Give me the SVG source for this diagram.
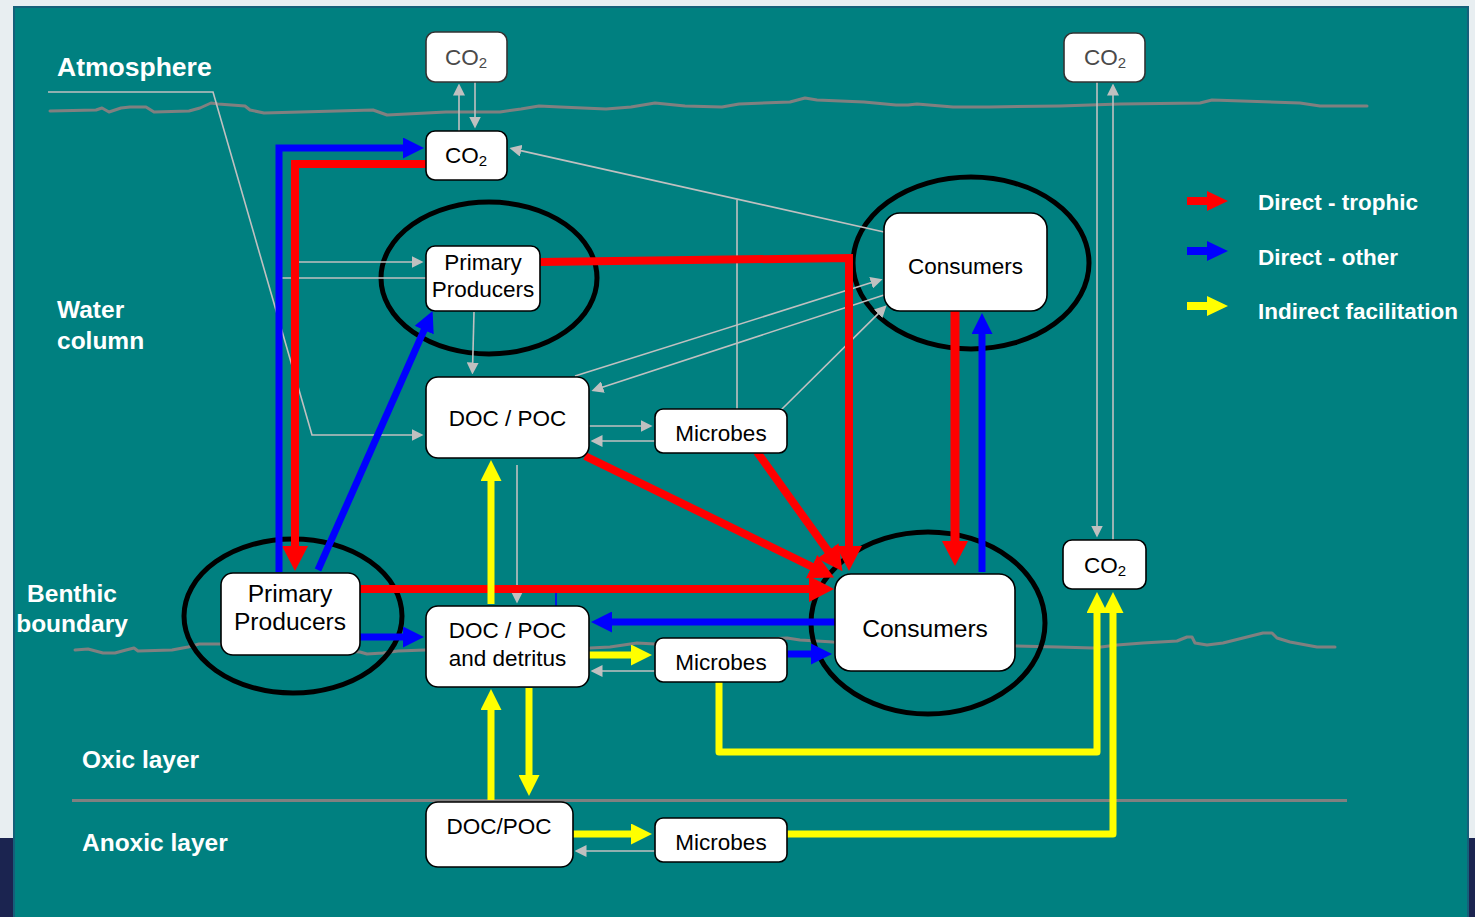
<svg xmlns="http://www.w3.org/2000/svg" width="1475" height="917" viewBox="0 0 1475 917">
<style>
.bg{fill:#e8eef1}
.panel{fill:#008080;stroke:#15607a;stroke-width:2}
.wave{fill:none;stroke:#808080;stroke-width:3;stroke-linejoin:round;stroke-linecap:round}
.g{fill:none;stroke:#c0c0c0;stroke-width:1.6}
.r{fill:none;stroke:#ff0000;stroke-width:8}
.b{fill:none;stroke:#0000ff;stroke-width:7}
.y{fill:none;stroke:#ffff00;stroke-width:7;stroke-linejoin:round}
.ell{fill:none;stroke:#000;stroke-width:5}
.box{fill:#fff;stroke:#000;stroke-width:1.6}
.boxg{fill:#fff;stroke:#333;stroke-width:1.6}
.nt{font-family:"Liberation Sans",Arial,sans-serif;font-size:22.5px;fill:#000;text-anchor:middle}
.ntl{font-family:"Liberation Sans",Arial,sans-serif;font-size:24.6px;fill:#000;text-anchor:middle}
.ntg{font-family:"Liberation Sans",Arial,sans-serif;font-size:22.5px;fill:#4a4a4a;text-anchor:middle}
.lb{font-family:"Liberation Sans",Arial,sans-serif;font-weight:bold;font-size:24.5px;fill:#fff}
.lg{font-family:"Liberation Sans",Arial,sans-serif;font-weight:bold;font-size:22.5px;fill:#fff}
</style>
<defs>
<marker id="hr" markerUnits="userSpaceOnUse" markerWidth="25" markerHeight="26" refX="1" refY="13" orient="auto" viewBox="0 0 25 26"><path d="M0,0 L25,13 L0,26 z" fill="#ff0000"/></marker>
<marker id="hb" markerUnits="userSpaceOnUse" markerWidth="21" markerHeight="21" refX="1" refY="10.5" orient="auto" viewBox="0 0 21 21"><path d="M0,0 L21,10.5 L0,21 z" fill="#0000ff"/></marker>
<marker id="hy" markerUnits="userSpaceOnUse" markerWidth="21" markerHeight="21" refX="1" refY="10.5" orient="auto" viewBox="0 0 21 21"><path d="M0,0 L21,10.5 L0,21 z" fill="#ffff00"/></marker>
<marker id="hg" markerUnits="userSpaceOnUse" markerWidth="12" markerHeight="12" refX="0.5" refY="6" orient="auto" viewBox="0 0 12 12"><path d="M0,0 L12,6 L0,12 z" fill="#c0c0c0"/></marker>
</defs>

<rect class="bg" x="0" y="0" width="1475" height="917"/>
<rect x="0" y="838" width="1475" height="79" fill="#1b2450"/>
<rect class="panel" x="14" y="7" width="1454" height="912"/>

<g id="layers">
<path class="wave" d="M50,111 L96,110 L102,108 L109,112 L121,108 L130,107 L146,107 L154,112 L189,111 L200,108 L211,103 L218,104 L245,106 L250,110 L264,113 L373,110 L387,115 L446,112 L500,112 L521,109 L539,106 L560,107 L606,109 L631,107 L655,103 L685,106 L722,107 L739,104 L790,102 L805,98 L817,100 L864,102 L896,105 L908,105 L917,104 L953,107 L989,107 L1060,106 L1120,104 L1200,103 L1212,100 L1300,103 L1320,106 L1367,106"/>
<path class="wave" d="M75,650 L88,649 L103,653 L115,653 L126,650 L134,648 L138,651 L172,650 L188,647 L199,644 L220,644 L360,652 L367,654 L383,653 L398,651 L425,650 L590,648 L610,647 L637,643 L655,644 L787,638 L800,640 L817,641 L833,642 L1016,646 L1058,647 L1093,648 L1117,645 L1143,643 L1177,641 L1187,637 L1192,637 L1195,643 L1207,645 L1223,643 L1243,638 L1263,633 L1272,633 L1277,638 L1290,642 L1317,647 L1335,647"/>
<line x1="72" y1="800.5" x2="1347" y2="800.5" stroke="#808080" stroke-width="3"/>
<text class="lb" x="57" y="76" style="font-size:26.5px">Atmosphere</text>
<text class="lb" x="57" y="318">Water</text>
<text class="lb" x="57" y="349">column</text>
<text class="lb" x="72" y="602" text-anchor="middle">Benthic</text>
<text class="lb" x="72" y="632" text-anchor="middle">boundary</text>
<text class="lb" x="82" y="768">Oxic layer</text>
<text class="lb" x="82" y="851">Anoxic layer</text>
</g>

<g id="ellipses">
<ellipse class="ell" cx="489" cy="278" rx="108" ry="76"/>
<ellipse class="ell" cx="971" cy="263" rx="118" ry="86"/>
<ellipse class="ell" cx="293" cy="616" rx="109" ry="77"/>
<ellipse class="ell" cx="928" cy="623" rx="117" ry="91"/>
</g>

<g id="connectors">
<g id="gray">
<path class="g" d="M48,92 H213 L312,435 H412" marker-end="url(#hg)"/>
<path class="g" d="M298,262 H412" marker-end="url(#hg)"/>
<path class="g" d="M282,278 H426"/>
<path class="g" d="M474,312 L472.7,363" marker-end="url(#hg)"/>
<path class="g" d="M459,131 V95" marker-end="url(#hg)"/>
<path class="g" d="M475,82 V117" marker-end="url(#hg)"/>
<path class="g" d="M884,232 L520.7,150.6" marker-end="url(#hg)"/>
<path class="g" d="M737,410 V200"/>
<path class="g" d="M575,376 L871.6,282.6" marker-end="url(#hg)"/>
<path class="g" d="M884,295 L602.4,387.3" marker-end="url(#hg)"/>
<path class="g" d="M781,410 L878.5,313.4" marker-end="url(#hg)"/>
<path class="g" d="M589,426 H641" marker-end="url(#hg)"/>
<path class="g" d="M655,441 H602" marker-end="url(#hg)"/>
<path class="g" d="M517,465 V592" marker-end="url(#hg)"/>
<path class="g" d="M655,671 H602" marker-end="url(#hg)"/>
<path class="g" d="M655,851 H586" marker-end="url(#hg)"/>
<path class="g" d="M1097,82 V526" marker-end="url(#hg)"/>
<path class="g" d="M1113,540 V95" marker-end="url(#hg)"/>
</g>
<g id="red">
<path class="r" d="M426,164 H295 V547" marker-end="url(#hr)"/>
<path class="r" d="M540,262 L849,258 V547" marker-end="url(#hr)"/>
<path class="r" d="M585,456 L812.5,567" marker-end="url(#hr)"/>
<path class="r" d="M757,452 L828.5,551.7" marker-end="url(#hr)"/>
<path class="r" d="M360,589 H810" marker-end="url(#hr)"/>
<path class="r" d="M955,311 V542" style="stroke-width:9" marker-end="url(#hr)"/>
</g>
<g id="blue">
<path class="b" d="M279,572 V148 H404" marker-end="url(#hb)"/>
<path class="b" d="M318,570 L424.5,329.2" marker-end="url(#hb)"/>
<path class="b" d="M982,572 V333" marker-end="url(#hb)"/>
<path class="b" d="M835,622 H611" marker-end="url(#hb)"/>
<path class="b" d="M787,654 H812" marker-end="url(#hb)"/>
<path class="b" d="M360,637 H404" marker-end="url(#hb)"/>
<path d="M556,593 V606" stroke="#0000ff" stroke-width="1.6" fill="none"/>
</g>
<g id="yellow">
<path class="y" d="M491,604 V480" marker-end="url(#hy)"/>
<path class="y" d="M588,655 H632" marker-end="url(#hy)"/>
<path class="y" d="M491,800 V709" marker-end="url(#hy)"/>
<path class="y" d="M529,688 V776" marker-end="url(#hy)"/>
<path class="y" d="M573,834 H632" marker-end="url(#hy)"/>
<path class="y" d="M719,681 V752 H1097 V612" marker-end="url(#hy)"/>
<path class="y" d="M787,834 H1113 V612" marker-end="url(#hy)"/>
</g>
</g>

<g id="co2-atm-left"><rect class="boxg" x="426" y="32" width="81" height="50" rx="9"/><text class="ntg" x="466" y="65">CO<tspan font-size="15" dy="3">2</tspan></text></g>
<g id="co2-atm-right"><rect class="boxg" x="1064" y="33" width="81" height="49" rx="9"/><text class="ntg" x="1105" y="65">CO<tspan font-size="15" dy="3">2</tspan></text></g>
<g id="co2-water"><rect class="box" x="426" y="131" width="81" height="49" rx="9"/><text class="nt" x="466" y="163">CO<tspan font-size="15" dy="3">2</tspan></text></g>
<g id="co2-benthic"><rect class="box" x="1063" y="540" width="83" height="49" rx="9"/><text class="nt" x="1105" y="573">CO<tspan font-size="15" dy="3">2</tspan></text></g>
<g id="pp-water"><rect class="box" x="426" y="246" width="114" height="65" rx="9"/><text class="nt" x="483" y="270">Primary</text><text class="nt" x="483" y="297">Producers</text></g>
<g id="consumers-water"><rect class="box" x="884" y="213" width="163" height="98" rx="16"/><text class="nt" x="965.5" y="274">Consumers</text></g>
<g id="doc-water"><rect class="box" x="426" y="377" width="163" height="81" rx="12"/><text class="nt" x="507.5" y="426">DOC / POC</text></g>
<g id="microbes-water"><rect class="box" x="655" y="409" width="132" height="44" rx="8"/><text class="nt" x="721" y="441">Microbes</text></g>
<g id="pp-benthic"><rect class="box" x="221" y="573" width="139" height="82" rx="12"/><text class="ntl" x="290" y="602">Primary</text><text class="ntl" x="290" y="630">Producers</text></g>
<g id="doc-benthic"><rect class="box" x="426" y="606" width="163" height="81" rx="12"/><text class="nt" x="507.5" y="638">DOC / POC</text><text class="nt" x="507.5" y="666">and detritus</text></g>
<g id="microbes-benthic"><rect class="box" x="655" y="638" width="132" height="44" rx="8"/><text class="nt" x="721" y="670">Microbes</text></g>
<g id="consumers-benthic"><rect class="box" x="835" y="574" width="180" height="97" rx="16"/><text class="ntl" x="925" y="637">Consumers</text></g>
<g id="doc-anoxic"><rect class="box" x="426" y="802" width="147" height="65" rx="12"/><text class="nt" x="499" y="834">DOC/POC</text></g>
<g id="microbes-anoxic"><rect class="box" x="655" y="818" width="132" height="44" rx="8"/><text class="nt" x="721" y="850">Microbes</text></g>

<g id="legend">
<path d="M1187,197 H1207 V191 L1228,201 L1207,211 V205 H1187 z" fill="#ff0000"/>
<path d="M1187,247 H1207 V241 L1228,251 L1207,261 V255 H1187 z" fill="#0000ff"/>
<path d="M1187,302 H1207 V296 L1228,306 L1207,316 V310 H1187 z" fill="#ffff00"/>
<text class="lg" x="1258" y="210">Direct - trophic</text>
<text class="lg" x="1258" y="265">Direct - other</text>
<text class="lg" x="1258" y="319">Indirect facilitation</text>
</g>
</svg>
